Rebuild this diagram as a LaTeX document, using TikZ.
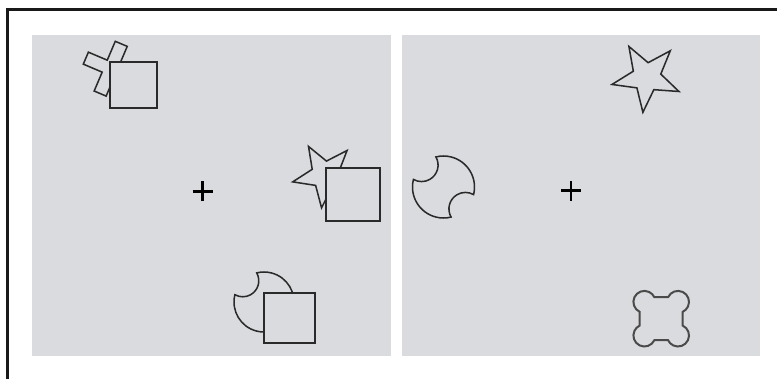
\documentclass[tikz,border=0pt]{standalone}
\usepackage{tikz}
\usepackage{xcolor}
\definecolor{panelgray}{HTML}{DADBDE}
\definecolor{inkgray}{HTML}{2A2A2A}
\definecolor{blobgray}{HTML}{4A4A4A}
\tikzset{
  border/.style={line width=2.3pt, draw=black!90},
  panel/.style={fill=panelgray, draw=none},
  figline/.style={line width=1.3pt, draw=inkgray, fill=panelgray, line join=miter},
  blobline/.style={line width=1.7pt, draw=blobgray, fill=panelgray},
  fixcross/.style={line width=2.5pt, draw=black},
}

\begin{document}
\begin{tikzpicture}[x=0.03cm, y=0.03cm]  % 1 unit = 1 px of the 777 x 379 frame
  \useasboundingbox (0,0) rectangle (777,379);
  % cropped outer frame, top and left only
  \draw[border] (7.5,0) |- (777,369.5);
  % two display panels
  \fill[panel] (32,23) rectangle (391,344);
  \fill[panel] (402,23) rectangle (760,344);
  % fixation crosses
  \foreach \x/\y in {202.7/187.7,571/188.5}{
    \draw[fixcross] (\x-10,\y) -- (\x+10,\y);
    \draw[fixcross] (\x,\y-10) -- (\x,\y+10);
  }
  % left panel: cross behind square
  \begin{scope}[shift={(110.7,310.3)}, rotate=67]
    \draw[figline] (27,-6.5) -- (27,6.5) -- (6.5,6.5) -- (6.5,27) -- (-6.5,27) -- (-6.5,6.5)
      -- (-27,6.5) -- (-27,-6.5) -- (-6.5,-6.5) -- (-6.5,-27) -- (6.5,-27) -- (6.5,-6.5) -- cycle;
  \end{scope}
  \draw[figline] (110,271) rectangle (157,317);
  % left panel: star behind square
  \begin{scope}[shift={(325,204)}]
    \draw[figline] (48:33) \foreach \k in {0,...,3}{ -- ({84+72*\k}:14) -- ({120+72*\k}:33) }
      -- (372:14) -- cycle;
  \end{scope}
  \draw[figline] (326,158) rectangle (380,211);
  % left panel: bitten circle behind square
  \begin{scope}[shift={(264,77)}]
    \pgfmathsetmacro\al{2*asin(16/60)}
    \draw[figline] (-45+\al:30) arc[start angle=-45+\al, end angle=135-\al, radius=30]
      arc[start angle=45-\al/2, end angle=-135+\al/2, radius=16]
      arc[start angle=135+\al, end angle=315-\al, radius=30]
      arc[start angle=-135-\al/2, end angle=-315+\al/2, radius=16] -- cycle;
  \end{scope}
  \draw[figline] (264,36) rectangle (315,86);
  % right panel: bitten circle
  \begin{scope}[shift={(443.5,192)}]
    \pgfmathsetmacro\al{2*asin(16.5/62)}
    \draw[figline] (-45+\al:31) arc[start angle=-45+\al, end angle=135-\al, radius=31]
      arc[start angle=45-\al/2, end angle=-135+\al/2, radius=16.5]
      arc[start angle=135+\al, end angle=315-\al, radius=31]
      arc[start angle=-135-\al/2, end angle=-315+\al/2, radius=16.5] -- cycle;
  \end{scope}
  % right panel: star
  \begin{scope}[shift={(646.6,301.9)}]
    \draw[figline] (48:35.4) \foreach \k in {0,...,3}{ -- ({84+72*\k}:14.5) -- ({120+72*\k}:35.4) }
      -- (372:14.5) -- cycle;
  \end{scope}
  % right panel: four-lobed blob
  \begin{scope}[shift={(661.2,60.3)}]
    \draw[blobline] ([shift={(16.8,16.8)}]154.7:11)
      \foreach \d/\x/\y [evaluate=\d as \s using \d+109.7, evaluate=\d as \e using \d-109.7]
        in {45/16.8/16.8,-45/16.8/-16.8,-135/-16.8/-16.8,135/-16.8/16.8}{
        -- ([shift={(\x,\y)}]\s:11) arc[start angle=\s, end angle=\e, radius=11] } -- cycle;
  \end{scope}
\end{tikzpicture}
\end{document}
